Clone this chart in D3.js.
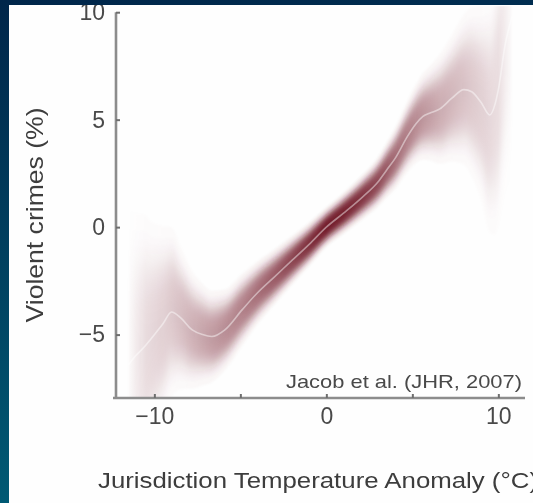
<!DOCTYPE html>
<html>
<head>
<meta charset="utf-8">
<script src="https://cdn.jsdelivr.net/npm/d3@7"></script>
<style>
  html, body { margin: 0; padding: 0; background: #003050; }
  svg { display: block; }
  text { font-family: "Liberation Sans", Arial, Helvetica, sans-serif; }
</style>
</head>
<body>
<script>
// ---- data ----
const tempAnomaly = [-11.5, -11.1, -10.5, -10.2, -9.5, -9.0, -8.5, -7.8, -7.2, -6.66, -5.9, -4.9, -4.0, -3.0, -2.0, -1.0, 0.0, 1.0, 2.1, 3.0, 3.5, 4.0, 4.7, 5.2, 5.6, 6.0, 6.6, 7.3, 8.0, 8.45, 9.0, 9.5, 9.8, 10.0, 10.4, 10.8];
const crimeChange = [-6.4, -6.0, -5.5, -5.2, -4.5, -3.95, -4.2, -4.78, -5.0, -5.09, -4.78, -3.85, -3.05, -2.3, -1.55, -0.8, 0.0, 0.65, 1.4, 2.1, 2.65, 3.2, 4.2, 4.8, 5.14, 5.3, 5.5, 6.0, 6.4, 6.3, 5.8, 5.22, 5.7, 6.4, 8.5, 9.8];
const crimeSE = [2.4, 2.2, 2.0, 1.8, 1.5, 1.3, 1.1, 0.9, 0.78, 0.7, 0.62, 0.55, 0.48, 0.42, 0.37, 0.33, 0.3, 0.31, 0.34, 0.38, 0.42, 0.47, 0.54, 0.6, 0.66, 0.72, 0.84, 0.97, 1.15, 1.3, 1.5, 1.8, 2.0, 2.1, 2.3, 2.5];
const xTicks = [-10, -5, 0, 5, 10];
const xTickLabels = ["−10", "", "0", "", "10"];
const yTicks = [-5, 0, 5, 10];
const yTickLabels = ["−5", "0", "5", "10"];
const xTitle = "Jurisdiction Temperature Anomaly (°C)";
const yTitle = "Violent crimes (%)";
const note = "Jacob et al. (JHR, 2007)";

const W = 533, H = 503;
const pts = tempAnomaly.map((t, i) => ({x: t, y: crimeChange[i], se: crimeSE[i]}));

const svg = d3.select("body").append("svg").attr("width", W).attr("height", H);
const defs = svg.append("defs");

// background gradient
const bg = defs.append("linearGradient").attr("id", "bg")
  .attr("gradientUnits", "userSpaceOnUse").attr("x1", 0).attr("y1", 0).attr("x2", 60).attr("y2", H);
bg.append("stop").attr("offset", 0).attr("stop-color", "#00264a");
bg.append("stop").attr("offset", 1).attr("stop-color", "#005a74");

svg.append("rect").attr("width", W).attr("height", H).attr("fill", "url(#bg)");
svg.append("rect").attr("x", 9).attr("y", 5).attr("width", W - 9).attr("height", H - 5).attr("fill", "#fefefe");

const x = d3.scaleLinear().domain([-12.23, 11.55]).range([116, 525]);
const y = d3.scaleLinear().domain([-7.95, 10]).range([398, 12.2]);

defs.append("filter").attr("id", "soft").attr("x", "-5%").attr("y", "-5%").attr("width", "110%").attr("height", "110%")
  .append("feGaussianBlur").attr("stdDeviation", 0.55);
defs.append("filter").attr("id", "soft2")
  .append("feGaussianBlur").attr("stdDeviation", 1.0);

defs.append("clipPath").attr("id", "plotclip").append("rect")
  .attr("x", x.range()[0] + 1).attr("y", y.range()[1] - 6)
  .attr("width", x.range()[1] - x.range()[0]).attr("height", y.range()[0] - y.range()[1] + 5);

// horizontal intensity mask: visual weight ~ 1 / standard error, fading at both ends
const x0 = x(tempAnomaly[0]), x1 = x(tempAnomaly[tempAnomaly.length - 1]);
const seMin = d3.min(crimeSE);
const last = pts.length - 1;
const mg = defs.append("linearGradient").attr("id", "weight")
  .attr("gradientUnits", "userSpaceOnUse").attr("x1", x0).attr("y1", 0).attr("x2", x1).attr("y2", 0);
pts.forEach((d, i) => {
  const edge = Math.min(1, (Math.min(i, last - i) + 0.3) / 2.3);
  mg.append("stop").attr("offset", (x(d.x) - x0) / (x1 - x0))
    .attr("stop-color", "#fff").attr("stop-opacity", Math.pow(seMin / d.se, 1.0) * edge);
});
defs.append("mask").attr("id", "wmask").attr("maskUnits", "userSpaceOnUse")
  .attr("x", 0).attr("y", 0).attr("width", W).attr("height", H)
  .append("rect").attr("x", 0).attr("y", 0).attr("width", W).attr("height", H).attr("fill", "url(#weight)");

const plot = svg.append("g").attr("clip-path", "url(#plotclip)");
const band = plot.append("g").attr("mask", "url(#wmask)").attr("filter", "url(#soft2)");

const N = 50;
const levels = d3.range(1, N + 1).map(i => Math.sqrt(-2 * Math.log((i - 0.5) / N)));
levels.forEach(z => {
  const area = d3.area()
    .x(d => x(d.x))
    .y0(d => y(d.y - z * d.se))
    .y1(d => y(d.y + z * d.se))
    .curve(d3.curveMonotoneX);
  band.append("path").datum(pts).attr("d", area)
    .attr("fill", "#6c1f31").attr("fill-opacity", 0.07);
});

const line = d3.line().x(d => x(d.x)).y(d => y(d.y)).curve(d3.curveMonotoneX);
plot.append("path").datum(pts).attr("d", line)
  .attr("fill", "none").attr("stroke", "#fff").attr("stroke-opacity", 0.45).attr("stroke-width", 1.6)
  .attr("filter", "url(#soft)");

// axes
const axes = svg.append("g").attr("filter", "url(#soft)");
const yAxis = d3.axisLeft(y).tickValues(yTicks).tickFormat((d, i) => yTickLabels[i])
  .tickSizeInner(-4).tickSizeOuter(0).tickPadding(11);
const gy = axes.append("g").attr("transform", `translate(${x.range()[0]},0)`).call(yAxis);
const xAxis = d3.axisBottom(x).tickValues(xTicks).tickFormat((d, i) => xTickLabels[i])
  .tickSizeInner(-4).tickSizeOuter(0).tickPadding(10);
const gx = axes.append("g").attr("transform", `translate(0,${y.range()[0]})`).call(xAxis);
[gx, gy].forEach(g => {
  g.select(".domain").attr("stroke", "#8c8c8c").attr("stroke-width", 2.6);
  g.selectAll(".tick line").attr("stroke", "#6e6e6e").attr("stroke-width", 2);
  g.selectAll(".tick text").attr("fill", "#4a4a4a").style("font-size", "23px")
    .style("font-family", '"Liberation Sans", Arial, sans-serif');
});
gx.select(".domain").attr("d", `M${x.range()[0] - 3},0H${x.range()[1]}`);
gy.select(".domain").attr("d", `M0,${y.range()[1]}V${y.range()[0] + 1}`);

axes.append("text").attr("x", 522).attr("y", 388).attr("text-anchor", "end")
  .attr("fill", "#4a4a4a").style("font-size", "19px")
  .attr("textLength", 236).attr("lengthAdjust", "spacingAndGlyphs").text(note);

axes.append("text").attr("x", 98).attr("y", 488)
  .attr("fill", "#3c3c3c").style("font-size", "22px")
  .attr("textLength", 440).attr("lengthAdjust", "spacingAndGlyphs").text(xTitle);

axes.append("text").attr("transform", "translate(43,215) rotate(-90)").attr("text-anchor", "middle")
  .attr("fill", "#3c3c3c").style("font-size", "24px")
  .attr("textLength", 215).attr("lengthAdjust", "spacingAndGlyphs").text(yTitle);

// top band of the backdrop overlaps the top tick label, as in the reference
svg.append("rect").attr("x", 0).attr("y", 0).attr("width", W).attr("height", 5).attr("fill", "url(#bg)");
</script>
</body>
</html>
